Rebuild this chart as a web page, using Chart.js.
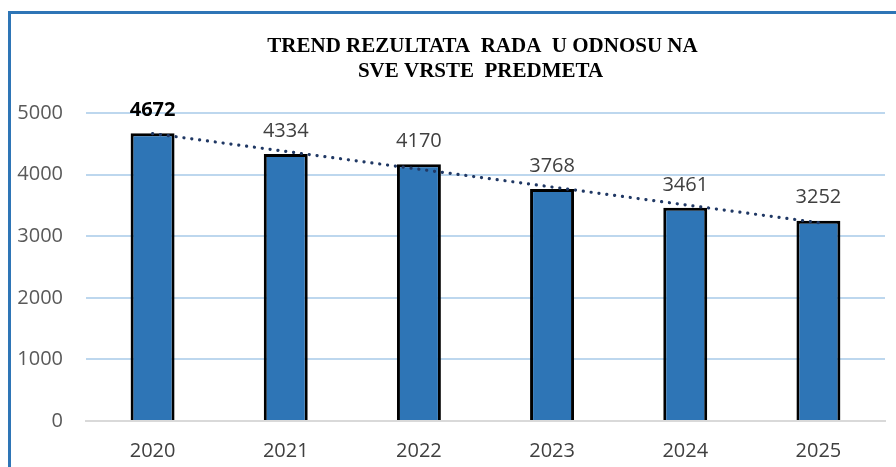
<!DOCTYPE html>
<html>
<head>
<meta charset="utf-8">
<script src="https://cdn.jsdelivr.net/npm/chart.js@4/dist/chart.umd.min.js"></script>
<style>
  html, body { margin: 0; padding: 0; background: #fff; overflow: hidden; }
  #wrap { position: relative; width: 896px; height: 467px; overflow: hidden; }
  #frame { position: absolute; left: 8px; top: 11px; width: 1000px; height: 1000px;
           border: 3px solid #2E75B6; box-sizing: border-box; }
  canvas { position: absolute; left: 0; top: 0; }
</style>
</head>
<body>
<div id="wrap">
  <div id="frame"></div>
  <canvas id="c" width="896" height="467"></canvas>
</div>
<script>
const categories = ['2020', '2021', '2022', '2023', '2024', '2025'];
const results = [4672, 4334, 4170, 3768, 3461, 3252];
const yTicks = [0, 1000, 2000, 3000, 4000, 5000];
const titleLines = ['TREND REZULTATA  RADA  U ODNOSU NA', 'SVE VRSTE  PREDMETA'];

// linear trendline (least squares) derived from the data
const n = results.length;
const mx = (n - 1) / 2;
const my = results.reduce((a, b) => a + b, 0) / n;
let sxy = 0, sxx = 0;
results.forEach((v, i) => { sxy += (i - mx) * (v - my); sxx += (i - mx) * (i - mx); });
const slope = sxy / sxx;
const trend = results.map((v, i) => my + slope * (i - mx));

const titlePlugin = {
  id: 'titlePlugin',
  afterDraw(chart) {
    const ctx = chart.ctx;
    const ca = chart.chartArea;
    const cx = (ca.left + ca.right) / 2 - 3;
    ctx.save();
    ctx.font = 'bold 21px "Liberation Serif"';
    ctx.fillStyle = '#000';
    ctx.textAlign = 'center';
    ctx.textBaseline = 'middle';
    ctx.fillText(titleLines[0], cx, 47);
    ctx.fillText(titleLines[1], cx - 2, 72);
    ctx.restore();
  }
};

const labelPlugin = {
  id: 'labelPlugin',
  afterDatasetsDraw(chart) {
    const ctx = chart.ctx;
    const meta = chart.getDatasetMeta(0);
    ctx.save();
    ctx.textAlign = 'center';
    ctx.textBaseline = 'middle';
    meta.data.forEach((bar, i) => {
      if (i === 0) {
        ctx.font = 'bold 20px "Open Sans"';
        ctx.fillStyle = '#000';
      } else {
        ctx.font = '20px "Open Sans"';
        ctx.fillStyle = '#404040';
      }
      ctx.fillText(String(results[i]), bar.x, bar.y - 23);
    });
    ctx.restore();
  }
};

new Chart(document.getElementById('c'), {
  type: 'bar',
  data: {
    labels: categories,
    datasets: [
      {
        type: 'bar',
        data: results,
        backgroundColor: '#2E75B6',
        borderColor: '#000000',
        borderWidth: 3,
        borderSkipped: 'bottom',
        categoryPercentage: 1,
        barPercentage: 0.33,
        order: 2
      },
      {
        type: 'line',
        data: trend,
        borderColor: '#203864',
        borderWidth: 3.2,
        borderDash: [0.1, 7.8],
        borderCapStyle: 'round',
        pointRadius: 0,
        fill: false,
        tension: 0,
        order: 1
      }
    ]
  },
  options: {
    responsive: false,
    animation: false,
    devicePixelRatio: 1,
    layout: { padding: { left: 0, right: 11, top: 113, bottom: 0 } },
    plugins: {
      legend: { display: false },
      tooltip: { enabled: false },
      title: { display: false }
    },
    scales: {
      x: {
        grid: { display: false, drawTicks: false },
        border: { display: true, color: '#D9D9D9', width: 2 },
        ticks: { color: '#404040', font: { family: 'Open Sans', size: 20 }, padding: 18 },
        afterFit(s) { s.height = 46; }
      },
      y: {
        min: 0,
        max: 5000,
        afterBuildTicks(s) { s.ticks = yTicks.map(v => ({ value: v })); },
        grid: {
          color: (c) => c.tick && c.tick.value === 0 ? 'rgba(0,0,0,0)' : '#BDD7EE',
          lineWidth: 2,
          drawTicks: false
        },
        border: { display: false },
        ticks: {
          color: '#595959',
          font: { family: 'Open Sans', size: 20 },
          padding: 23,
          callback: (v) => String(v)
        },
        afterFit(s) { s.width = 86; }
      }
    }
  },
  plugins: [titlePlugin, labelPlugin]
});
</script>
</body>
</html>
